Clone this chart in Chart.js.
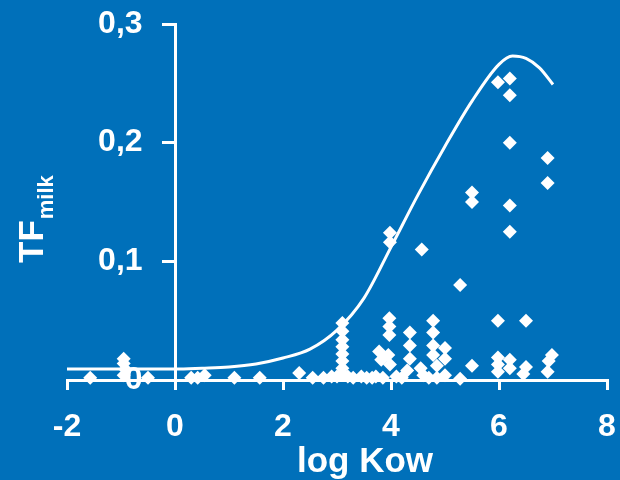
<!DOCTYPE html>
<html>
<head>
<meta charset="utf-8">
<script src="https://cdn.jsdelivr.net/npm/chart.js@4/dist/chart.umd.min.js"></script>
<style>
  html, body { margin: 0; padding: 0; background: #0070ba; }
</style>
</head>
<body>
<canvas id="tfChart" width="620" height="480"></canvas>
<script>
// Transfer factor to milk vs. log Kow: measured substances (diamonds) and the model curve.
const kowValues = [
    -1.57, -0.95, -0.95, -0.92, -0.95, -0.5, 0.3, 0.42, 0.55, 1.1, 1.57,
    2.3, 2.55, 2.75, 2.9, 3.0,
    3.1, 3.1, 3.1, 3.1, 3.1, 3.1, 3.1, 3.1,
    3.2, 3.3, 3.45, 3.55, 3.65, 3.72, 3.85, 4.1, 4.2,
    3.97, 3.97, 3.97, 3.78, 3.82, 3.95, 3.98, 3.98, 3.98,
    4.35, 4.35, 4.35, 4.3,
    4.57, 4.55, 4.6,
    4.78, 4.78, 4.78, 4.78, 4.85,
    5.0, 5.0, 5.0, 4.85, 4.7,
    5.28, 5.28,
    5.5, 5.5, 5.5,
    5.98, 5.98, 5.98, 5.98, 5.98,
    6.2, 6.2, 6.2, 6.2, 6.2, 6.2, 6.2,
    6.5, 6.5, 6.45,
    6.9, 6.9, 6.98, 6.92, 6.9,
];
const tfValues = [
    0.002, 0.018, 0.014, 0.009, 0.004, 0.002, 0.002, 0.002, 0.004, 0.002, 0.002,
    0.006, 0.002, 0.002, 0.003, 0.003,
    0.048, 0.041, 0.034, 0.028, 0.022, 0.016, 0.010, 0.005,
    0.003, 0.002, 0.003, 0.002, 0.002, 0.003, 0.002, 0.003, 0.002,
    0.052, 0.045, 0.038, 0.024, 0.017, 0.021, 0.013, 0.124, 0.116,
    0.040, 0.029, 0.018, 0.008,
    0.110, 0.010, 0.004,
    0.050, 0.040, 0.029, 0.021, 0.012,
    0.027, 0.018, 0.004, 0.002, 0.002,
    0.080, 0.001,
    0.158, 0.150, 0.012,
    0.251, 0.050, 0.019, 0.013, 0.007,
    0.254, 0.240, 0.200, 0.147, 0.125, 0.017, 0.010,
    0.050, 0.011, 0.005,
    0.187, 0.166, 0.021, 0.016, 0.007,
];

// Model curve, read at fixed log Kow steps
const curveKow = [-2, -1, 0, 0.5, 1, 1.5, 2, 2.5, 3, 3.5, 4, 4.5, 5, 5.5, 6, 6.25, 6.5, 6.75, 7];
const curveTf = [0.0093, 0.0093, 0.0093, 0.0100, 0.011, 0.0135, 0.0185, 0.026, 0.042, 0.069, 0.112, 0.156, 0.197, 0.235, 0.266, 0.273, 0.271, 0.263, 0.249];

const xTickLabels = ['-2', '0', '2', '4', '6', '8'];
const yTickLabels = ['0', '0,1', '0,2', '0,3'];
const X_TITLE = 'log Kow';
const Y_TITLE = 'TF';
const Y_TITLE_SUB = 'milk';

const WHITE = '#ffffff';
const FONT = '"Liberation Sans", Arial, sans-serif';

// Axis titles by hand: the y title needs a subscript
const axisTitles = {
    id: 'axisTitles',
    afterDraw(chart) {
        const ctx = chart.ctx;
        ctx.save();
        ctx.fillStyle = WHITE;
        ctx.textBaseline = 'alphabetic';

        ctx.font = 'bold 35px ' + FONT;
        ctx.textAlign = 'center';
        ctx.fillText(X_TITLE, 365, 472);

        ctx.translate(43, 263);
        ctx.rotate(-Math.PI / 2);
        ctx.textAlign = 'left';
        ctx.font = 'bold 35px ' + FONT;
        ctx.fillText(Y_TITLE, 0, 0);
        const w = ctx.measureText(Y_TITLE).width;
        ctx.font = 'bold 22px ' + FONT;
        ctx.fillText(Y_TITLE_SUB, w + 1, 10);
        ctx.restore();
    }
};

// Keep the plot box where the layout padding puts it: no extra room for edge labels
function noEdgePadding(scale) {
    scale.paddingLeft = scale.paddingRight = scale.paddingTop = scale.paddingBottom = 0;
}

const axisLine = { color: WHITE, width: 3 };
const tickMarks = { drawOnChartArea: false, color: WHITE, lineWidth: 3, tickWidth: 3 };

new Chart(document.getElementById('tfChart'), {
    type: 'scatter',
    data: {
        datasets: [
            {
                label: 'model',
                type: 'line',
                data: curveKow.map((x, i) => ({ x, y: curveTf[i] })),
                borderColor: WHITE,
                borderWidth: 3,
                pointRadius: 0,
                fill: false,
                cubicInterpolationMode: 'monotone',
                clip: false,
            },
            {
                label: 'measured',
                data: kowValues.map((x, i) => ({ x, y: tfValues[i] })),
                pointStyle: 'rectRot',
                pointRadius: 7,
                backgroundColor: WHITE,
                borderColor: WHITE,
                borderWidth: 0,
                clip: false,
            },
        ],
    },
    options: {
        responsive: false,
        animation: false,
        layout: { padding: { left: 67, right: 13, top: 24, bottom: 0 } },
        plugins: { legend: { display: false }, tooltip: { enabled: false } },
        scales: {
            x: {
                type: 'linear',
                min: -2,
                max: 8,
                border: axisLine,
                grid: { ...tickMarks, tickLength: 10 },
                ticks: {
                    stepSize: 2,
                    color: WHITE,
                    padding: 18,
                    maxRotation: 0,
                    font: { family: FONT, size: 32, weight: 'bold' },
                    callback: (v, i) => xTickLabels[i],
                },
                afterFit(scale) {
                    noEdgePadding(scale);
                    scale.height = 100;
                },
            },
            // value labels, set a little left of the vertical axis
            y: {
                type: 'linear',
                min: 0,
                max: 0.3,
                position: { x: -0.6 },
                border: { display: false },
                grid: { display: false },
                ticks: {
                    stepSize: 0.1,
                    color: WHITE,
                    font: { family: FONT, size: 32, weight: 'bold' },
                    callback: (v, i) => yTickLabels[i],
                },
                afterFit: noEdgePadding,
            },
            // the vertical axis itself, crossing at log Kow = 0
            yLine: {
                type: 'linear',
                axis: 'y',
                min: 0,
                max: 0.3,
                position: { x: 0 },
                border: axisLine,
                grid: { ...tickMarks, tickLength: 12 },
                ticks: { stepSize: 0.1, display: false },
                afterFit: noEdgePadding,
            },
        },
    },
    plugins: [axisTitles],
});
</script>
</body>
</html>
